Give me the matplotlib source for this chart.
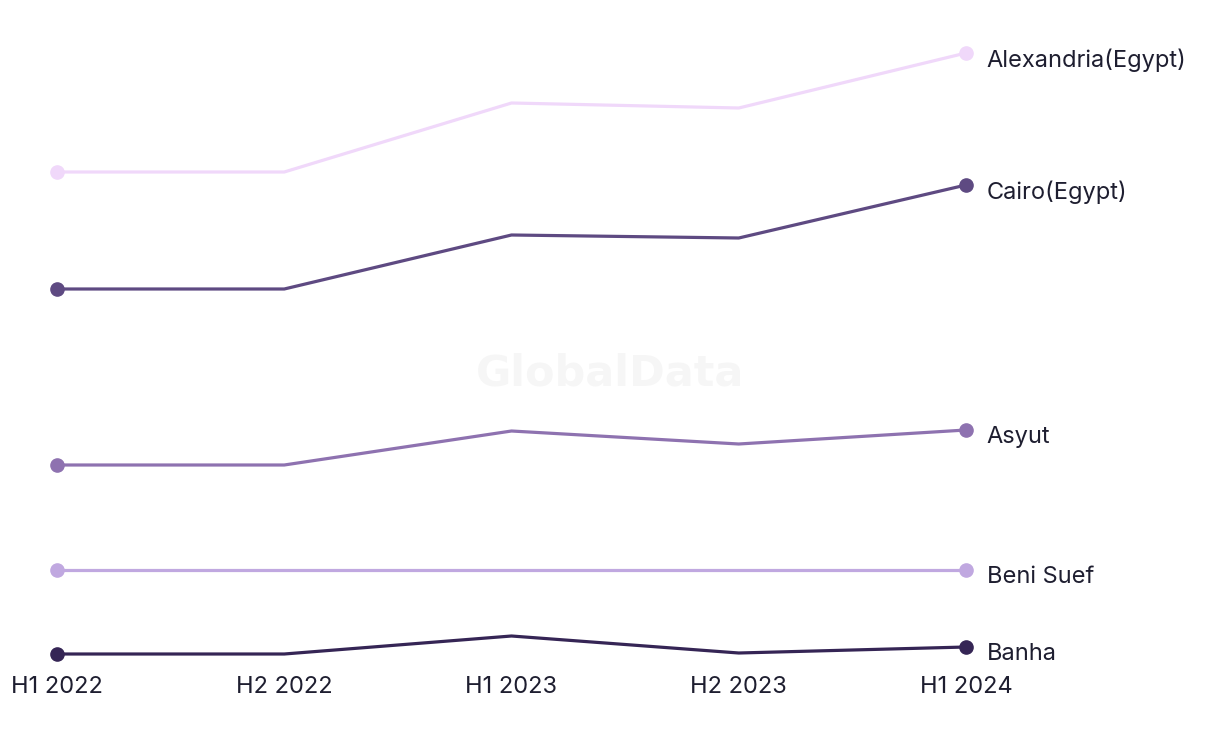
import matplotlib
matplotlib.use("Agg")
import matplotlib.pyplot as plt

periods = ["H1 2022", "H2 2022", "H1 2023", "H2 2023", "H1 2024"]
series_names = ["Alexandria(Egypt)", "Cairo(Egypt)", "Asyut", "Beni Suef", "Banha"]
alexandria = [528, 528, 597, 592, 647]
cairo = [411, 411, 465, 462, 515]
asyut = [235, 235, 269, 256, 270]
beni_suef = [130, 130, 130, 130, 130]
banha = [46, 46, 64, 47, 53]
series_values = [alexandria, cairo, asyut, beni_suef, banha]
colors = ["#F0D8FA", "#5E4A82", "#8E72B0", "#C0A8E0", "#352555"]

W, H = 1220, 744
fig = plt.figure(figsize=(W / 100, H / 100), dpi=100)
fig.patch.set_facecolor("white")
# axes in pixel terms: left 57, right 966, top 40, bottom 668
ax = fig.add_axes([57 / W, (H - 668) / H, (966 - 57) / W, (668 - 40) / H])
ax.set_xlim(0, len(periods) - 1)
ax.set_ylim(32, 660)

fig.text(610 / W, 1 - 373 / H, "GlobalData", ha="center", va="center",
         fontsize=31, fontweight="bold", color="#F6F6F6", family="DejaVu Sans", zorder=0)

x = list(range(len(periods)))
for name, vals, c in zip(series_names, series_values, colors):
    ax.plot(x, vals, color=c, lw=2.3, marker="o", markersize=9.5,
            markevery=[0, len(vals) - 1], clip_on=False, solid_capstyle="round", zorder=3)
    ax.annotate(name, xy=(x[-1], vals[-1]), xytext=(15, -5), textcoords="offset points",
                ha="left", va="center", fontsize=17, color="#1E1E30", family="Inter",
                annotation_clip=False)

ax.set_xticks(x)
ax.set_xticklabels(periods, fontsize=17, color="#1E1E30", family="Inter")
ax.tick_params(axis="x", length=0, pad=5.5)
ax.set_yticks([])
for s in ax.spines.values():
    s.set_visible(False)
ax.patch.set_alpha(0)

fig.savefig("out.png", dpi=100, facecolor="white")
